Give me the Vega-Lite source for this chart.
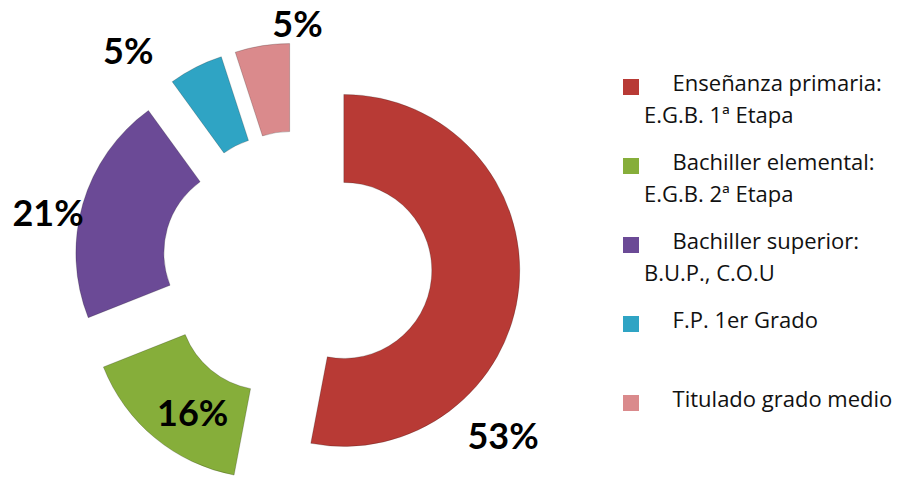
{
  "$schema": "https://vega.github.io/schema/vega-lite/v6.json",
  "width": 594,
  "height": 434,
  "autosize": {"type": "none"},
  "padding": {"left": 0, "top": 49, "right": 308, "bottom": 0},
  "background": "white",
  "config": {
    "view": {"stroke": null},
    "style": {"guide-label": {"lineHeight": 32, "dy": -13}}
  },
  "data": {
    "values": [
      {"orden": 1, "nivel": "Enseñanza primaria:\nE.G.B. 1ª Etapa", "pct": 0.53},
      {"orden": 2, "nivel": "Bachiller elemental:\nE.G.B. 2ª Etapa", "pct": 0.16},
      {"orden": 3, "nivel": "Bachiller superior:\nB.U.P., C.O.U", "pct": 0.21},
      {"orden": 4, "nivel": "F.P. 1er Grado", "pct": 0.05},
      {"orden": 5, "nivel": "Titulado grado medio", "pct": 0.05}
    ]
  },
  "encoding": {
    "theta": {"field": "pct", "type": "quantitative", "stack": true},
    "order": {"field": "orden", "type": "quantitative"}
  },
  "layer": [
    {
      "mark": {
        "type": "arc",
        "innerRadius": 88,
        "outerRadius": 176,
        "x": {"expr": "width/2 + 47*sin(PI*(datum.pct_start + datum.pct_end))"},
        "y": {"expr": "height/2 - 47*cos(PI*(datum.pct_start + datum.pct_end))"},
        "stroke": "#000000",
        "strokeOpacity": 0.2,
        "strokeWidth": 1
      },
      "encoding": {
        "color": {
          "field": "nivel",
          "type": "nominal",
          "scale": {
            "domain": ["Enseñanza primaria:\nE.G.B. 1ª Etapa", "Bachiller elemental:\nE.G.B. 2ª Etapa", "Bachiller superior:\nB.U.P., C.O.U", "F.P. 1er Grado", "Titulado grado medio"],
            "range": ["#B83A35", "#86AE3A", "#6B4A96", "#2FA4C4", "#DA8A8C"]
          },
          "legend": {
            "orient": "none",
            "legendX": 620,
            "legendY": 27,
            "title": null,
            "padding": 0,
            "symbolType": "square",
            "symbolSize": 256,
            "symbolStrokeWidth": 0,
            "labelFont": "Open Sans",
            "labelFontSize": 22,
            "labelColor": "#111111",
            "labelLimit": 0,
            "labelOffset": 2,
            "rowPadding": 25,
            "labelBaseline": "top",
            "labelExpr": "indexof(datum.label, '\\n') >= 0 ? ['\u200b\u00a0\u00a0\u00a0\u00a0\u00a0' + split(datum.label, '\\n')[0], split(datum.label, '\\n')[1]] : ['\u200b\u00a0\u00a0\u00a0\u00a0\u00a0' + datum.label, '']"
          }
        }
      }
    },
    {
      "mark": {
        "type": "text",
        "font": "Lato",
        "fontSize": 36,
        "fontWeight": "bold",
        "fill": "#000000",
        "radius": {"expr": "[221, 181, 253, 266, 240][datum.orden - 1]"},
        "dx": {"expr": "[-14, 11, -6, -48, 38][datum.orden - 1]"},
        "dy": {"expr": "[151, 10, 20, 24, -3][datum.orden - 1]"}
      },
      "encoding": {
        "text": {"field": "pct", "type": "quantitative", "format": ".0%"}
      }
    }
  ]
}
